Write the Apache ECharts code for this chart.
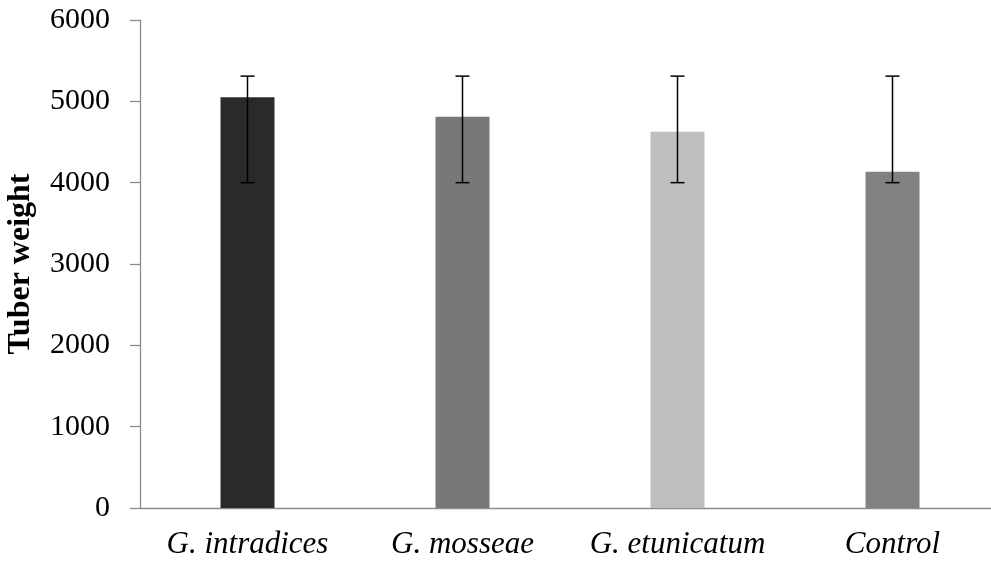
<!DOCTYPE html>
<html>
<head>
<meta charset="utf-8">
<title>Tuber weight</title>
<script src="https://cdn.jsdelivr.net/npm/echarts@6/dist/echarts.min.js"></script>
<style>
  html, body { margin: 0; padding: 0; background: #ffffff; }
  #chart { width: 991px; height: 561px; }
</style>
</head>
<body>
<div id="chart"></div>
<script>
// Treatments on the category axis
const categories = ['G. intradices', 'G. mosseae', 'G. etunicatum', 'Control'];
// Mean tuber weight per treatment
const tuberWeight = [5050, 4810, 4625, 4135];
// Error bar ends (lower / upper)
const errorLow = [4000, 4000, 4000, 4000];
const errorHigh = [5310, 5310, 5310, 5310];
// Y axis ticks
const yTicks = [0, 1000, 2000, 3000, 4000, 5000, 6000];

const barColors = ['#2a2a2a', '#787878', '#bfbfbf', '#828282'];
const serif = '"Liberation Serif", "Times New Roman", serif';

const chart = echarts.init(document.getElementById('chart'), null, { renderer: 'canvas' });

const errorData = categories.map((c, i) => [i, errorLow[i], errorHigh[i]]);

chart.setOption({
  animation: false,
  backgroundColor: '#ffffff',
  grid: { left: 140, top: 20, width: 860, bottom: 53, containLabel: false, outerBoundsMode: 'none' },
  xAxis: {
    type: 'category',
    data: categories,
    axisLine: { lineStyle: { color: '#8c8c8c', width: 1.3 } },
    axisTick: { show: false },
    axisLabel: {
      interval: 0,
      margin: 21,
      fontFamily: serif,
      fontStyle: 'italic',
      fontSize: 31,
      color: '#000000'
    },
    splitLine: { show: false }
  },
  yAxis: {
    type: 'value',
    min: yTicks[0],
    max: yTicks[yTicks.length - 1],
    interval: 1000,
    name: 'Tuber weight',
    nameLocation: 'middle',
    nameRotate: 90,
    nameGap: 103,
    nameTextStyle: {
      fontFamily: serif,
      fontWeight: 'bold',
      fontSize: 32,
      color: '#000000'
    },
    axisLine: { show: true, lineStyle: { color: '#8c8c8c', width: 1.3 } },
    axisTick: { show: true, length: 10, inside: false, lineStyle: { color: '#8c8c8c', width: 1.3 } },
    axisLabel: {
      margin: 30,
      fontFamily: serif,
      fontSize: 30,
      color: '#000000',
      formatter: function (v) { return String(v); }
    },
    splitLine: { show: false }
  },
  series: [
    {
      type: 'bar',
      barWidth: 54,
      data: tuberWeight.map((v, i) => ({ value: v, itemStyle: { color: barColors[i] } })),
      z: 2
    },
    {
      type: 'custom',
      data: errorData,
      encode: { x: 0, y: [1, 2] },
      z: 5,
      renderItem: function (params, api) {
        const idx = api.value(0);
        const lo = api.coord([idx, api.value(1)]);
        const hi = api.coord([idx, api.value(2)]);
        const half = 7;
        const style = { stroke: '#000000', lineWidth: 1.5 };
        return {
          type: 'group',
          children: [
            { type: 'line', shape: { x1: hi[0], y1: hi[1], x2: lo[0], y2: lo[1] }, style: style },
            { type: 'line', shape: { x1: hi[0] - half, y1: hi[1], x2: hi[0] + half, y2: hi[1] }, style: style },
            { type: 'line', shape: { x1: lo[0] - half, y1: lo[1], x2: lo[0] + half, y2: lo[1] }, style: style }
          ]
        };
      }
    }
  ]
});
</script>
</body>
</html>
